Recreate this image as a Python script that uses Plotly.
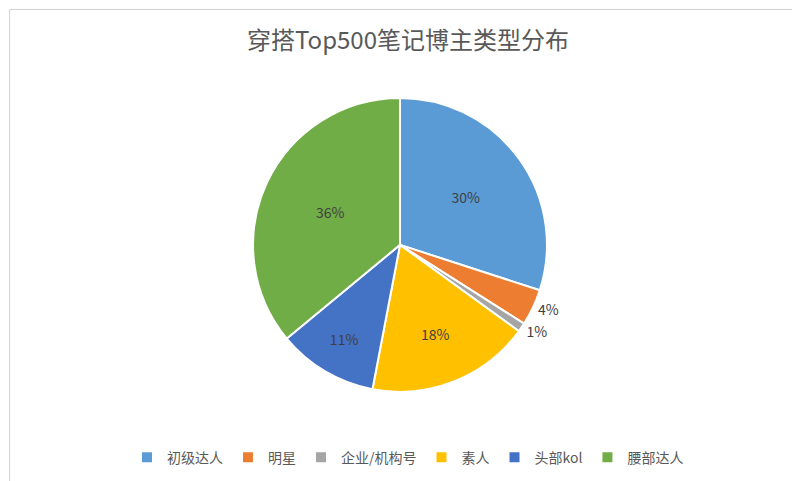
import plotly.graph_objects as go

labels = ["初级达人", "明星", "企业/机构号", "素人", "头部kol", "腰部达人"]
values = [30, 4, 1, 18, 11, 36]
colors = ["#5B9BD5", "#ED7D31", "#A5A5A5", "#FFC000", "#4472C4", "#70AD47"]
positions = ["inside", "outside", "outside", "inside", "inside", "inside"]

font = "PingFang SC, Noto Sans CJK SC, sans-serif"

fig = go.Figure(go.Pie(
    labels=labels, values=values, sort=False, direction="clockwise", rotation=0,
    marker=dict(colors=colors, line=dict(color="white", width=2)),
    texttemplate="%{percent:.0%}", textposition=positions,
    textfont=dict(size=14, color="#404040"), insidetextorientation="horizontal",
    domain=dict(x=[0.306, 0.674], y=[0.202, 0.813]),
))
fig.update_layout(
    width=800, height=481, margin=dict(l=0, r=0, t=0, b=0),
    paper_bgcolor="white", font=dict(family=font, color="#595959"),
    title=dict(text="穿搭Top500笔记博主类型分布", x=0.5, y=0.95, xanchor="center",
               font=dict(size=24, color="#595959")),
    legend=dict(orientation="h", x=0.5, xanchor="center", y=0.065, yanchor="middle",
                font=dict(size=14, color="#595959")),
    shapes=[dict(type="rect", xref="paper", yref="paper", x0=0.002, y0=0.003, x1=0.996, y1=0.997,
                 line=dict(color="#D0D0D0", width=1))],
)
fig.write_html("out.html")
